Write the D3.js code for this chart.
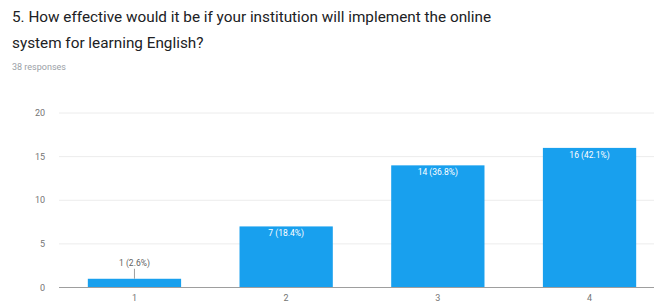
<!DOCTYPE html>
<html>
<head>
<meta charset="utf-8">
<script src="https://cdn.jsdelivr.net/npm/d3@7"></script>
<style>
  body { margin: 0; background: #fff; }
  svg { display: block; font-family: Roboto, "Noto Sans", sans-serif; }
</style>
</head>
<body>
<div id="chart"></div>
<script>
var categories = ["1", "2", "3", "4"];
var counts = [1, 7, 14, 16];
var percents = ["2.6%", "18.4%", "36.8%", "42.1%"];
var yTicks = [0, 5, 10, 15, 20];

var width = 654, height = 304;

var svg = d3.select("#chart")
    .append("svg")
    .attr("width", width)
    .attr("height", height);

// title
svg.append("text")
    .attr("x", 12).attr("y", 22)
    .style("font-size", "15.3px")
    .style("fill", "#202124")
    .text("5. How effective would it be if your institution will implement the online");
svg.append("text")
    .attr("x", 12).attr("y", 48)
    .style("font-size", "15.3px")
    .style("fill", "#202124")
    .text("system for learning English?");
svg.append("text")
    .attr("x", 12).attr("y", 70)
    .style("font-size", "9px")
    .style("fill", "#9aa0a6")
    .text("38 responses");

var x = d3.scaleBand()
    .domain(categories)
    .range([59, 665])
    .paddingInner(0.385)
    .paddingOuter(0.19);

var y = d3.scaleLinear()
    .domain([0, 20])
    .range([287.5, 113]);

// gridlines
svg.append("g")
    .selectAll("line")
    .data(yTicks.filter(function(d) { return d > 0; }))
    .enter().append("line")
    .attr("x1", 59).attr("x2", width)
    .attr("y1", function(d) { return y(d); })
    .attr("y2", function(d) { return y(d); })
    .style("stroke", "#ececec");

// y tick labels
svg.append("g")
    .selectAll("text")
    .data(yTicks)
    .enter().append("text")
    .attr("x", 45)
    .attr("y", function(d) { return y(d) + 3; })
    .attr("text-anchor", "end")
    .style("font-size", "9px")
    .style("fill", "#757575")
    .text(function(d) { return d; });

// bars
svg.append("g")
    .selectAll("rect")
    .data(counts)
    .enter().append("rect")
    .attr("x", function(d, i) { return x(categories[i]); })
    .attr("y", function(d) { return y(d); })
    .attr("width", x.bandwidth())
    .attr("height", function(d) { return y(0) - y(d); })
    .style("fill", "#18a0ee");

// baseline
svg.append("line")
    .attr("x1", 59).attr("x2", width)
    .attr("y1", y(0)).attr("y2", y(0))
    .style("stroke", "#9e9e9e");

// value labels
counts.forEach(function(d, i) {
    var cx = x(categories[i]) + x.bandwidth() / 2;
    var label = d + " (" + percents[i] + ")";
    var inside = (y(0) - y(d)) > 20;
    if (inside) {
        svg.append("text")
            .attr("x", cx).attr("y", y(d) + 10)
            .attr("text-anchor", "middle")
            .style("font-size", "8.5px")
            .style("fill", "#fff")
            .text(label);
    } else {
        svg.append("line")
            .attr("x1", cx).attr("x2", cx)
            .attr("y1", y(d) - 10).attr("y2", y(d))
            .style("stroke", "#9e9e9e");
        svg.append("text")
            .attr("x", cx).attr("y", y(d) - 13)
            .attr("text-anchor", "middle")
            .style("font-size", "8.5px")
            .style("fill", "#616161")
            .text(label);
    }
});

// x labels
svg.append("g")
    .selectAll("text")
    .data(categories)
    .enter().append("text")
    .attr("x", function(d) { return x(d) + x.bandwidth() / 2; })
    .attr("y", 301)
    .attr("text-anchor", "middle")
    .style("font-size", "9px")
    .style("fill", "#757575")
    .text(function(d) { return d; });
</script>
</body>
</html>
